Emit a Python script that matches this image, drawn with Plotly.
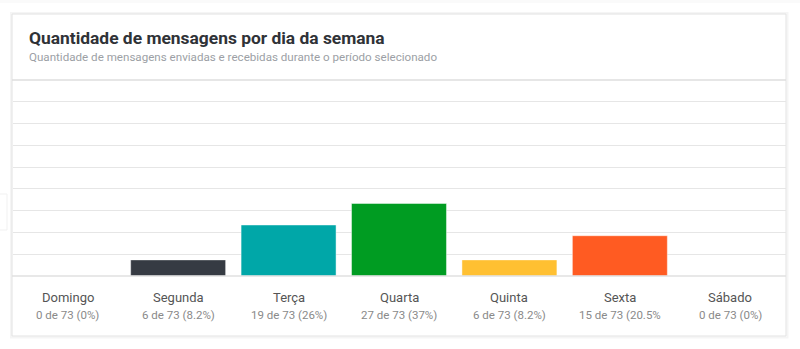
import plotly.graph_objects as go

# Messages per weekday
days = ["Domingo", "Segunda", "Terça", "Quarta", "Quinta", "Sexta", "Sábado"]
counts = [0, 6, 19, 27, 6, 15, 0]
total = 73
pct_parts = ["(0%)", "(8.2%)", "(26%)", "(37%)", "(8.2%)", "(20.5%", "(0%)"]
colors = ["#7f7f7f", "#363b43", "#00a7a8", "#009c22", "#ffc032", "#ff5b22", "#7f7f7f"]

W, H = 800, 349
# card / plot geometry in pixels
card_l, card_r, card_t, card_b = 12, 786, 14, 336
plot_t, plot_b = 80, 276


def py(y):
    return 1 - y / H


fig = go.Figure()
fig.add_trace(go.Bar(
    x=days, y=counts,
    marker=dict(color=colors, line=dict(color="rgba(255,255,255,0.45)", width=1)),
    hoverinfo="skip",
))

shapes = [
    # faint neighbouring elements
    dict(type="rect", xref="paper", yref="paper", x0=-0.01, x1=1.01, y0=py(3), y1=1.01,
         fillcolor="#fafafa", line=dict(width=0), layer="below"),
    dict(type="rect", xref="paper", yref="paper", x0=-0.01, x1=7 / W, y0=py(230), y1=py(194),
         fillcolor="#ffffff", line=dict(color="#f1f1f1", width=1), layer="below"),
    # card shadow + card
    dict(type="rect", xref="paper", yref="paper", x0=(card_l - 1) / W, x1=(card_r + 1.5) / W,
         y0=py(card_b + 1.5), y1=py(card_t - 1), fillcolor="rgba(0,0,0,0)",
         line=dict(color="rgba(0,0,0,0.04)", width=2), layer="below"),
    dict(type="rect", xref="paper", yref="paper", x0=card_l / W, x1=card_r / W,
         y0=py(card_b), y1=py(card_t), fillcolor="#ffffff",
         line=dict(color="#e2e2e2", width=1), layer="below"),
    # header divider
    dict(type="line", xref="paper", yref="paper", x0=card_l / W, x1=card_r / W,
         y0=py(plot_t), y1=py(plot_t), line=dict(color="#dedede", width=1.5)),
    # baseline under the bars
    dict(type="line", xref="paper", yref="paper", x0=card_l / W, x1=card_r / W,
         y0=py(plot_b), y1=py(plot_b), line=dict(color="#e0e0e0", width=1.5)),
]

annotations = [
    dict(text="<b>Quantidade de mensagens por dia da semana</b>", xref="paper", yref="paper",
         x=26.5 / W, y=py(38), xanchor="left", yanchor="middle", showarrow=False,
         font=dict(family="Roboto", size=17.4, color="#2f3237")),
    dict(text="Quantidade de mensagens enviadas e recebidas durante o período selecionado",
         xref="paper", yref="paper", x=26.5 / W, y=py(56.5), xanchor="left", yanchor="middle",
         showarrow=False, font=dict(family="Roboto", size=11.6, color="#9c9fa5")),
]
for d, c, p in zip(days, counts, pct_parts):
    annotations.append(dict(text=d, xref="x", yref="paper", x=d, y=py(297),
                            xanchor="center", yanchor="middle", showarrow=False,
                            font=dict(family="Roboto", size=13, color="#555555")))
    annotations.append(dict(text=f"{c} de {total} {p}", xref="x", yref="paper", x=d, y=py(315),
                            xanchor="center", yanchor="middle", showarrow=False,
                            font=dict(family="Roboto", size=11.5, color="#8a8a8a")))

fig.update_layout(
    width=W, height=H,
    margin=dict(l=0, r=0, t=0, b=0),
    paper_bgcolor="#ffffff",
    plot_bgcolor="#f7f7f7",
    bargap=0.14,
    showlegend=False,
    font=dict(family="Roboto"),
    xaxis=dict(domain=[(card_l + 0.5) / W, (card_r - 0.5) / W], showticklabels=False,
               showgrid=False, zeroline=False, fixedrange=True),
    yaxis=dict(domain=[py(plot_b), py(plot_t)], range=[0, total],
               tick0=0, dtick=total / 9, showticklabels=False,
               gridcolor="#e6e6e6", gridwidth=1, zeroline=False, fixedrange=True),
    shapes=shapes,
    annotations=annotations,
)

fig.write_html("out.html", config={"displayModeBar": False})
